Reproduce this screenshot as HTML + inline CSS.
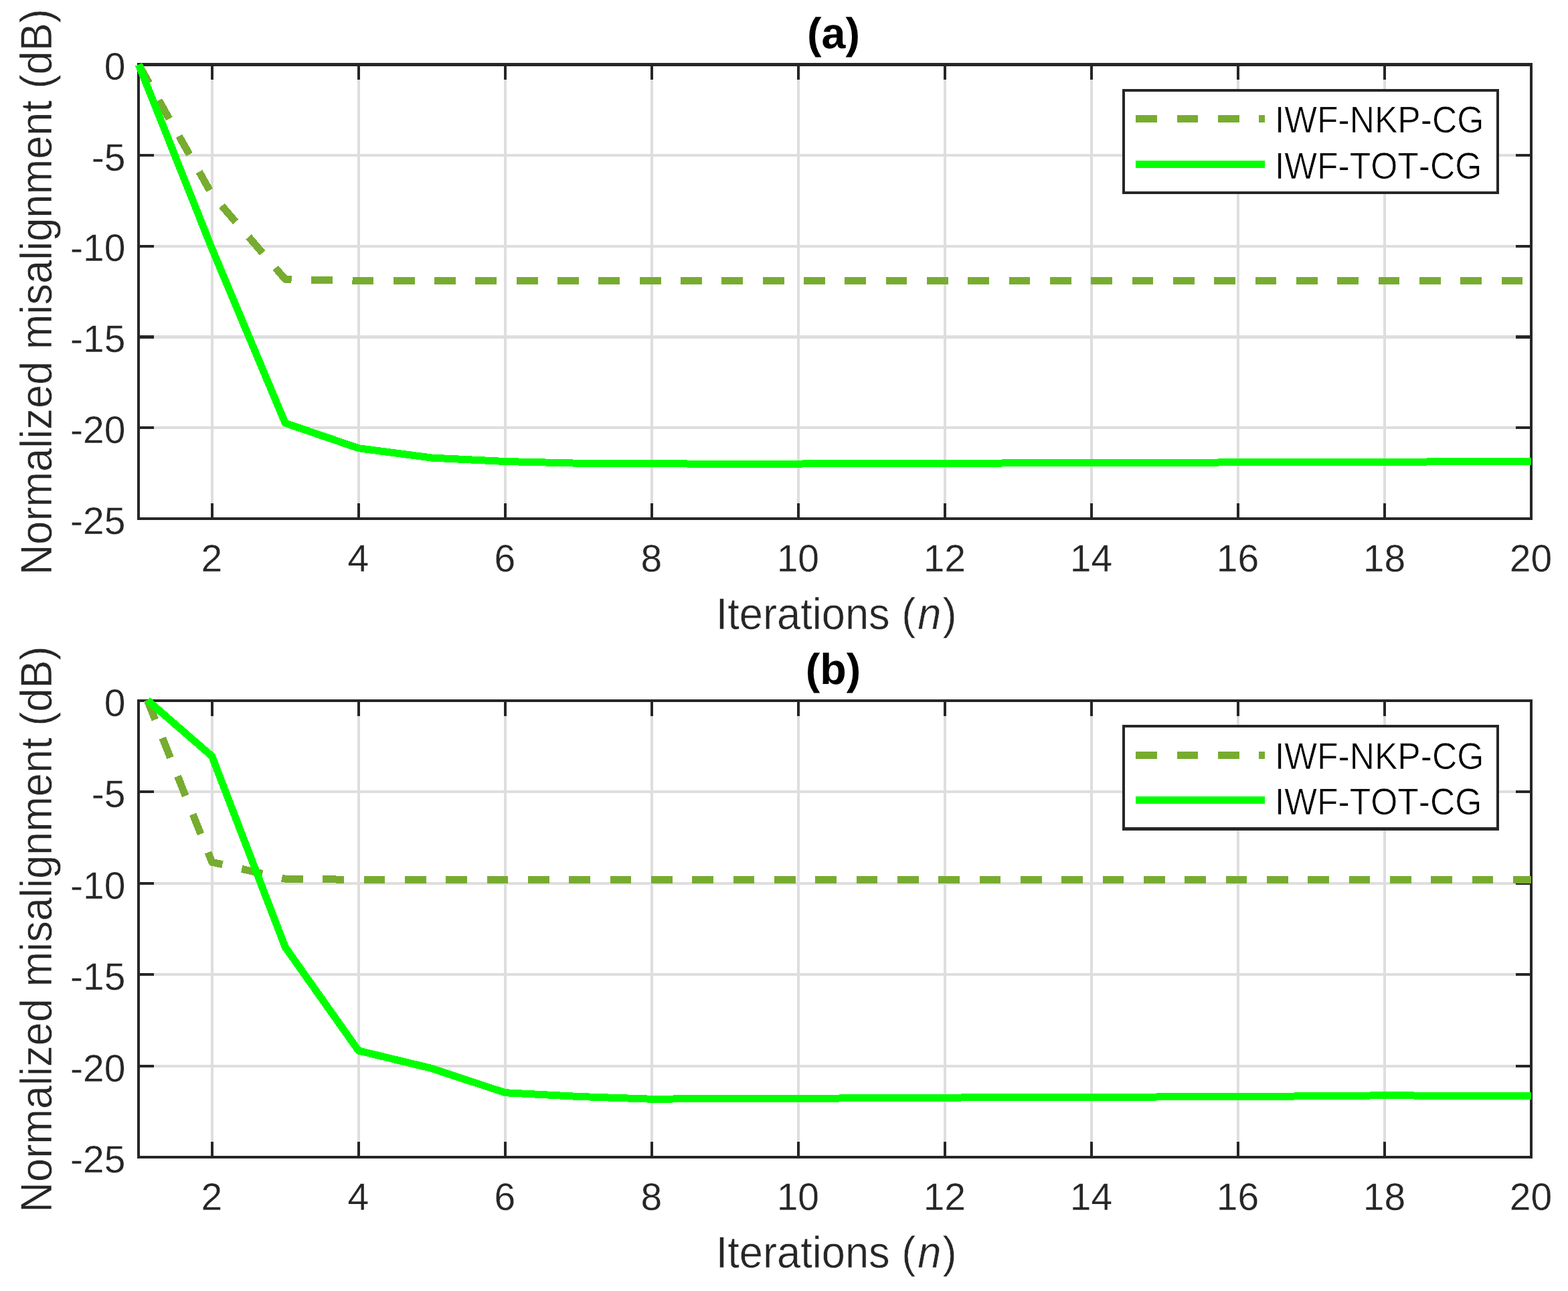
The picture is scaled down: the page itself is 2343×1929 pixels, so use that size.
<!DOCTYPE html>
<html lang="en"><head><meta charset="utf-8"><title>Normalized misalignment vs iterations</title>
<style>
html,body{margin:0;padding:0;background:#fff;}
body{width:2343px;height:1929px;overflow:hidden;}
svg{display:block;shape-rendering:crispEdges;}
text{font-family:"Liberation Sans", Arial, Helvetica, sans-serif;font-kerning:none;text-rendering:geometricPrecision;}
.tk{font-size:57.0px;fill:#262626;stroke:#fff;stroke-width:0.3px;}
.lab{font-size:63.2px;fill:#262626;stroke:#fff;stroke-width:0.5px;}
.ttl{font-size:64.6px;font-weight:bold;fill:#000;}
.leg{font-size:51.6px;fill:#000;stroke:#fff;stroke-width:0.65px;}
.mid{text-anchor:middle;}.end{text-anchor:end;}
.grid{fill:#dedede;}
.ax{fill:#262626;}
.lbox{fill:#262626;fill-rule:evenodd;}
.lfill{fill:#fff;}
.nkp{stroke:#77ac30;stroke-width:11.0;fill:none;stroke-dasharray:31.7 29.63;stroke-linejoin:round;}
.tot{stroke:#00ff00;stroke-width:11.0;fill:none;stroke-linejoin:round;}
</style></head><body>
<svg width="2343" height="1929" viewBox="0 0 2343 1929" role="img" aria-label="Normalized misalignment versus iterations, panels (a) and (b)">
<rect x="0" y="0" width="2343" height="1929" fill="#ffffff"/>
<g id="axes-a">
<path class="grid" d="M315 94h4V777h-4zM534 94h4V777h-4zM753 94h4V777h-4zM972 94h4V777h-4zM1191 94h4V777h-4zM1410 94h4V777h-4zM1629 94h4V777h-4zM1848 94h4V777h-4zM2067 94h4V777h-4zM205 230H2290V234H205zM205 366H2290V370H205zM205 501H2290V506H205zM205 637H2290V641H205z"/>
<path class="ax" d="M315 752h4V777h-4zM315 94h4V119h-4zM534 752h4V777h-4zM534 94h4V119h-4zM753 752h4V777h-4zM753 94h4V119h-4zM972 752h4V777h-4zM972 94h4V119h-4zM1191 752h4V777h-4zM1191 94h4V119h-4zM1410 752h4V777h-4zM1410 94h4V119h-4zM1629 752h4V777h-4zM1629 94h4V119h-4zM1848 752h4V777h-4zM1848 94h4V119h-4zM2067 752h4V777h-4zM2067 94h4V119h-4zM205 230H230V234H205zM2265 230H2290V234H2265zM205 366H230V370H205zM2265 366H2290V370H2265zM205 501H230V506H205zM2265 501H2290V506H2265zM205 637H230V641H205zM2265 637H2290V641H2265zM205 94H2290V99H205zM205 773H2290V777H205zM205 94H209V777H205zM2286 94H2290V777H2286z"/>
<clipPath id="clipA"><rect x="201.2" y="90.45" width="2092.8" height="690.55"/></clipPath>
<path class="nkp" clip-path="url(#clipA)" d="M207.2 96.45L316.72 290.52L426.23 417.27L535.75 419.44L645.26 419.44L754.78 419.44L864.29 419.44L973.81 419.44L1083.33 419.44L1192.84 419.44L1302.36 419.44L1411.87 419.44L1521.39 419.44L1630.91 419.44L1740.42 419.44L1849.94 419.44L1959.45 419.44L2068.97 419.44L2178.48 419.44L2288 419.44"/>
<path class="tot" clip-path="url(#clipA)" d="M207.2 96.45L316.72 371.4L426.23 632.23L535.75 669.69L645.26 684.07L754.78 689.5L864.29 692.22L973.81 692.49L1083.33 693.57L1192.84 693.03L1302.36 692.76L1411.87 692.22L1521.39 691.95L1630.91 691.67L1740.42 691.4L1849.94 690.86L1959.45 690.59L2068.97 690.32L2178.48 689.77L2288 689.5"/>
<text class="tk mid" transform="translate(316.22 854.1) scale(1 1.008)">2</text>
<text class="tk mid" transform="translate(535.25 854.1) scale(1 1.008)">4</text>
<text class="tk mid" transform="translate(754.28 854.1) scale(1 1.008)">6</text>
<text class="tk mid" transform="translate(973.31 854.1) scale(1 1.008)">8</text>
<text class="tk mid" transform="translate(1192.34 854.1) scale(1 1.008)">10</text>
<text class="tk mid" transform="translate(1411.37 854.1) scale(1 1.008)">12</text>
<text class="tk mid" transform="translate(1630.41 854.1) scale(1 1.008)">14</text>
<text class="tk mid" transform="translate(1849.44 854.1) scale(1 1.008)">16</text>
<text class="tk mid" transform="translate(2068.47 854.1) scale(1 1.008)">18</text>
<text class="tk mid" transform="translate(2287.5 854.1) scale(1 1.008)">20</text>
<text class="tk end" transform="translate(187.4 118.95) scale(1 1.008)">0</text>
<text class="tk end" transform="translate(187.4 254.66) scale(1 1.008)">-5</text>
<text class="tk end" transform="translate(187.4 390.37) scale(1 1.008)">-10</text>
<text class="tk end" transform="translate(187.4 526.08) scale(1 1.008)">-15</text>
<text class="tk end" transform="translate(187.4 661.79) scale(1 1.008)">-20</text>
<text class="tk end" transform="translate(187.4 797.5) scale(1 1.008)">-25</text>
<text class="lab mid" transform="translate(1249.6 939.8) scale(1 1.05)">Iterations (<tspan font-style="italic" dx="3">n</tspan><tspan dx="2">)</tspan></text>
<text class="lab mid" transform="translate(77 436.23) rotate(-90) scale(1 1.05)">Normalized misalignment (dB)</text>
<text class="ttl mid" transform="translate(1245.5 72)">(a)</text>
<path class="lfill" d="M1677 133H2240V290H1677z"/>
<path class="lbox" d="M1677 133H2240V290H1677zM1681 137H2236V286H1681z"/>
<path class="nkp" d="M1697.35 177.65H1890"/>
<path class="tot" d="M1697.35 245.25H1890"/>
<text class="leg" transform="translate(1904.9 198.25) scale(1 1.083)">IWF-NKP-CG</text>
<text class="leg" transform="translate(1904.9 267.45) scale(1 1.083)">IWF-TOT-CG</text>
</g>
<g id="axes-b">
<path class="grid" d="M315 1045h4V1731h-4zM534 1045h4V1731h-4zM753 1045h4V1731h-4zM972 1045h4V1731h-4zM1191 1045h4V1731h-4zM1410 1045h4V1731h-4zM1629 1045h4V1731h-4zM1848 1045h4V1731h-4zM2067 1045h4V1731h-4zM205 1181H2290V1185H205zM205 1318H2290V1322H205zM205 1454H2290V1458H205zM205 1591H2290V1595H205z"/>
<path class="ax" d="M315 1706h4V1731h-4zM315 1045h4V1070h-4zM534 1706h4V1731h-4zM534 1045h4V1070h-4zM753 1706h4V1731h-4zM753 1045h4V1070h-4zM972 1706h4V1731h-4zM972 1045h4V1070h-4zM1191 1706h4V1731h-4zM1191 1045h4V1070h-4zM1410 1706h4V1731h-4zM1410 1045h4V1070h-4zM1629 1706h4V1731h-4zM1629 1045h4V1070h-4zM1848 1706h4V1731h-4zM1848 1045h4V1070h-4zM2067 1706h4V1731h-4zM2067 1045h4V1070h-4zM205 1181H230V1185H205zM2265 1181H2290V1185H2265zM205 1318H230V1322H205zM2265 1318H2290V1322H2265zM205 1454H230V1458H205zM2265 1454H2290V1458H2265zM205 1591H230V1595H205zM2265 1591H2290V1595H2265zM205 1045H2290V1049H205zM205 1727H2290V1731H205zM205 1045H209V1731H205zM2286 1045H2290V1731H2286z"/>
<clipPath id="clipB"><rect x="201.2" y="1041" width="2092.8" height="694"/></clipPath>
<path class="nkp" clip-path="url(#clipB)" d="M220.07 1045.8L316.72 1288.16L426.23 1313.25L535.75 1314.34L645.26 1314.34L754.78 1314.34L864.29 1314.34L973.81 1314.34L1083.33 1314.34L1192.84 1314.34L1302.36 1314.34L1411.87 1314.34L1521.39 1314.34L1630.91 1314.34L1740.42 1314.34L1849.94 1314.34L1959.45 1314.34L2068.97 1314.34L2178.48 1314.34L2288 1314.34"/>
<path class="tot" clip-path="url(#clipB)" d="M220.23 1046.18L316.72 1129.93L426.23 1415.28L535.75 1569.96L645.26 1596.42L754.78 1632.7L864.29 1638.43L973.81 1642.25L1083.33 1641.43L1192.84 1641.16L1302.36 1640.89L1411.87 1640.07L1521.39 1639.79L1630.91 1639.25L1740.42 1638.98L1849.94 1638.43L1959.45 1637.88L2068.97 1636.79L2178.48 1637.34L2288 1637.34"/>
<text class="tk mid" transform="translate(316.22 1808.1) scale(1 1.008)">2</text>
<text class="tk mid" transform="translate(535.25 1808.1) scale(1 1.008)">4</text>
<text class="tk mid" transform="translate(754.28 1808.1) scale(1 1.008)">6</text>
<text class="tk mid" transform="translate(973.31 1808.1) scale(1 1.008)">8</text>
<text class="tk mid" transform="translate(1192.34 1808.1) scale(1 1.008)">10</text>
<text class="tk mid" transform="translate(1411.37 1808.1) scale(1 1.008)">12</text>
<text class="tk mid" transform="translate(1630.41 1808.1) scale(1 1.008)">14</text>
<text class="tk mid" transform="translate(1849.44 1808.1) scale(1 1.008)">16</text>
<text class="tk mid" transform="translate(2068.47 1808.1) scale(1 1.008)">18</text>
<text class="tk mid" transform="translate(2287.5 1808.1) scale(1 1.008)">20</text>
<text class="tk end" transform="translate(187.4 1069.9) scale(1 1.008)">0</text>
<text class="tk end" transform="translate(187.4 1206.3) scale(1 1.008)">-5</text>
<text class="tk end" transform="translate(187.4 1342.7) scale(1 1.008)">-10</text>
<text class="tk end" transform="translate(187.4 1479.1) scale(1 1.008)">-15</text>
<text class="tk end" transform="translate(187.4 1615.5) scale(1 1.008)">-20</text>
<text class="tk end" transform="translate(187.4 1751.9) scale(1 1.008)">-25</text>
<text class="lab mid" transform="translate(1249.6 1893.8) scale(1 1.05)">Iterations (<tspan font-style="italic" dx="3">n</tspan><tspan dx="2">)</tspan></text>
<text class="lab mid" transform="translate(77 1388.5) rotate(-90) scale(1 1.05)">Normalized misalignment (dB)</text>
<text class="ttl mid" transform="translate(1245 1022.1)">(b)</text>
<path class="lfill" d="M1677 1083H2240V1241H1677z"/>
<path class="lbox" d="M1677 1083H2240V1241H1677zM1681 1087H2236V1236H1681z"/>
<path class="nkp" d="M1697.35 1128.2H1890"/>
<path class="tot" d="M1697.35 1195.8H1890"/>
<text class="leg" transform="translate(1904.9 1148.8) scale(1 1.083)">IWF-NKP-CG</text>
<text class="leg" transform="translate(1904.9 1217.2) scale(1 1.083)">IWF-TOT-CG</text>
</g>
</svg>
</body></html>
